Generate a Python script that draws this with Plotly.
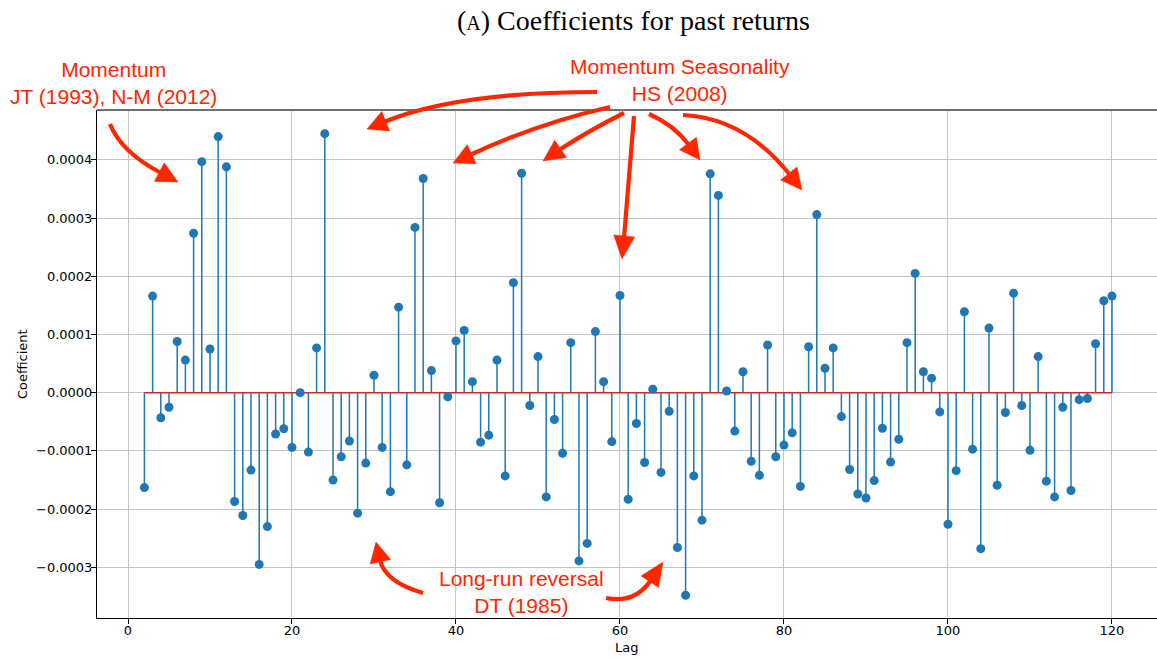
import plotly.graph_objects as go

# ---------------- data ----------------
lags = list(range(2, 121))
coef = [
    -1.63e-4, 1.66e-4, -0.43e-4, -0.25e-4, 0.88e-4, 0.56e-4, 2.74e-4, 3.97e-4, 0.75e-4, 4.40e-4,
    3.88e-4, -1.87e-4, -2.11e-4, -1.33e-4, -2.95e-4, -2.30e-4, -0.71e-4, -0.62e-4, -0.94e-4, 0.00e-4,
    -1.02e-4, 0.77e-4, 4.45e-4, -1.50e-4, -1.10e-4, -0.83e-4, -2.07e-4, -1.21e-4, 0.30e-4, -0.94e-4,
    -1.70e-4, 1.47e-4, -1.24e-4, 2.84e-4, 3.68e-4, 0.38e-4, -1.89e-4, -0.07e-4, 0.89e-4, 1.07e-4,
    0.19e-4, -0.85e-4, -0.73e-4, 0.56e-4, -1.43e-4, 1.89e-4, 3.77e-4, -0.22e-4, 0.62e-4, -1.79e-4,
    -0.46e-4, -1.04e-4, 0.86e-4, -2.89e-4, -2.59e-4, 1.05e-4, 0.19e-4, -0.84e-4, 1.67e-4, -1.83e-4,
    -0.53e-4, -1.20e-4, 0.06e-4, -1.37e-4, -0.32e-4, -2.66e-4, -3.48e-4, -1.43e-4, -2.19e-4, 3.76e-4,
    3.39e-4, 0.03e-4, -0.66e-4, 0.36e-4, -1.18e-4, -1.42e-4, 0.82e-4, -1.10e-4, -0.90e-4, -0.69e-4,
    -1.61e-4, 0.79e-4, 3.06e-4, 0.42e-4, 0.77e-4, -0.41e-4, -1.32e-4, -1.74e-4, -1.81e-4, -1.51e-4,
    -0.61e-4, -1.19e-4, -0.80e-4, 0.86e-4, 2.05e-4, 0.36e-4, 0.25e-4, -0.33e-4, -2.26e-4, -1.34e-4,
    1.39e-4, -0.97e-4, -2.68e-4, 1.11e-4, -1.59e-4, -0.34e-4, 1.71e-4, -0.22e-4, -0.99e-4, 0.62e-4,
    -1.52e-4, -1.79e-4, -0.25e-4, -1.68e-4, -0.12e-4, -0.10e-4, 0.84e-4, 1.58e-4, 1.66e-4,
]
xtick_vals = [0, 20, 40, 60, 80, 100, 120]
ytick_vals = [-0.0003, -0.0002, -0.0001, 0.0, 0.0001, 0.0002, 0.0003, 0.0004]
ytick_text = ["\u22120.0003", "\u22120.0002", "\u22120.0001", "0.0000",
              "0.0001", "0.0002", "0.0003", "0.0004"]

title_text = "(<span style='font-size:20px'>A</span>) Coefficients for past returns"
note_momentum = "Momentum<br>JT (1993), N-M (2012)"
note_season = "Momentum Seasonality<br>HS (2008)"
note_reversal = "Long-run reversal<br>DT (1985)"

# ---------------- layout constants ----------------
W, H = 1157, 658
L, R, T, B = 97, 1157, 110, 618
BLUE = "#1f77b4"
BASE_RED = "#d62728"
RED = "#FF2600"


def P(px, py):
    return (px - L) / (R - L), (B - py) / (B - T)


# stems
sx, sy = [], []
for lg, v in zip(lags, coef):
    sx += [lg, lg, None]
    sy += [0, v, None]

fig = go.Figure()
fig.add_trace(go.Scatter(x=sx, y=sy, mode="lines",
                         line=dict(color=BLUE, width=1.5), hoverinfo="skip",
                         showlegend=False))
fig.add_trace(go.Scatter(x=[min(lags), max(lags)], y=[0, 0], mode="lines",
                         line=dict(color=BASE_RED, width=1.5), showlegend=False))
fig.add_trace(go.Scatter(x=lags, y=coef, mode="markers",
                         marker=dict(color=BLUE, size=9), showlegend=False))

fig.update_layout(
    width=W, height=H, autosize=False,
    margin=dict(l=L, r=W - R, t=T, b=H - B, pad=0),
    paper_bgcolor="white", plot_bgcolor="white",
    font=dict(family="DejaVu Sans", size=13, color="black"),
    xaxis=dict(range=[-3.78, 125.49], tickvals=xtick_vals, showgrid=True,
               gridcolor="#c4c4c4", gridwidth=1, zeroline=False,
               showline=True, linecolor="black", linewidth=1,
               ticks="outside", ticklen=5, tickcolor="black", ticklabelstandoff=-5,
               tickfont=dict(family="DejaVu Sans", size=13)),
    yaxis=dict(range=[-3.871e-4, 4.857e-4], tickvals=ytick_vals, ticktext=ytick_text,
               showgrid=True, gridcolor="#c4c4c4", gridwidth=1, zeroline=False,
               showline=True, linecolor="black", linewidth=1,
               ticks="outside", ticklen=5, tickcolor="black", ticklabelstandoff=-4,
               tickfont=dict(family="DejaVu Sans", size=13)),
)

shapes = [dict(type="line", xref="paper", yref="paper", x0=0, x1=1, y0=1, y1=1,
               line=dict(color="#707070", width=2), layer="above")]

# arrows: start, control, head base middle, tip (pixel positions of the annotations)
arrows = [
    ((110, 124), (121, 152), (161, 173), (178, 182)),
    ((597, 92), (457, 92), (384, 122), (367, 129)),
    ((610, 107), (536, 124), (470, 155), (453, 163)),
    ((624, 113), (590, 130), (559, 150), (543, 161)),
    ((634, 116), (629, 178), (624, 238), (622, 259)),
    ((649, 114), (674, 125), (689, 145), (700, 160)),
    ((683, 115), (745, 118), (790, 175), (802, 190)),
    ((423, 593), (385, 582), (380, 560), (376, 542)),
    ((606, 598), (635, 604), (651, 580), (663, 562)),
]
for (s, c, m, t) in arrows:
    ps, pc, pm = P(*s), P(*c), P(*m)
    shapes.append(dict(type="path", xref="paper", yref="paper", layer="above",
                       path=f"M {ps[0]},{ps[1]} Q {pc[0]},{pc[1]} {pm[0]},{pm[1]}",
                       line=dict(color=RED, width=4.2)))
    dx, dy = t[0] - m[0], t[1] - m[1]
    n = (dx * dx + dy * dy) ** 0.5
    ux, uy = -dy / n, dx / n
    hw = 10.5
    b1 = P(m[0] + ux * hw - dx * 0.1, m[1] + uy * hw - dy * 0.1)
    b2 = P(m[0] - ux * hw - dx * 0.1, m[1] - uy * hw - dy * 0.1)
    pt = P(*t)
    shapes.append(dict(type="path", xref="paper", yref="paper", layer="above",
                       path=f"M {b1[0]},{b1[1]} L {pt[0]},{pt[1]} L {b2[0]},{b2[1]} Z",
                       fillcolor=RED, line=dict(color=RED, width=0.5)))
fig.update_layout(shapes=shapes)

ann = []


def text(px, py, s, size, family, color="black", angle=0):
    x, y = P(px, py)
    ann.append(dict(xref="paper", yref="paper", x=x, y=y, text=s, showarrow=False,
                    xanchor="center", yanchor="middle", textangle=angle,
                    font=dict(family=family, size=size, color=color)))


text(633, 20, title_text, 28, "Liberation Serif")
text(113, 83, note_momentum, 21, "Liberation Sans", RED)
text(680, 80, note_season, 21, "Liberation Sans", RED)
text(521, 592, note_reversal, 21, "Liberation Sans", RED)
text(22, 364, "Coefficient", 13, "DejaVu Sans", angle=-90)
text(626, 647, "Lag", 13, "DejaVu Sans")
fig.update_layout(annotations=ann)

fig.write_html("out.html", config={"displayModeBar": False},
               post_script="document.body.style.margin='0px';document.body.style.overflow='hidden';")
